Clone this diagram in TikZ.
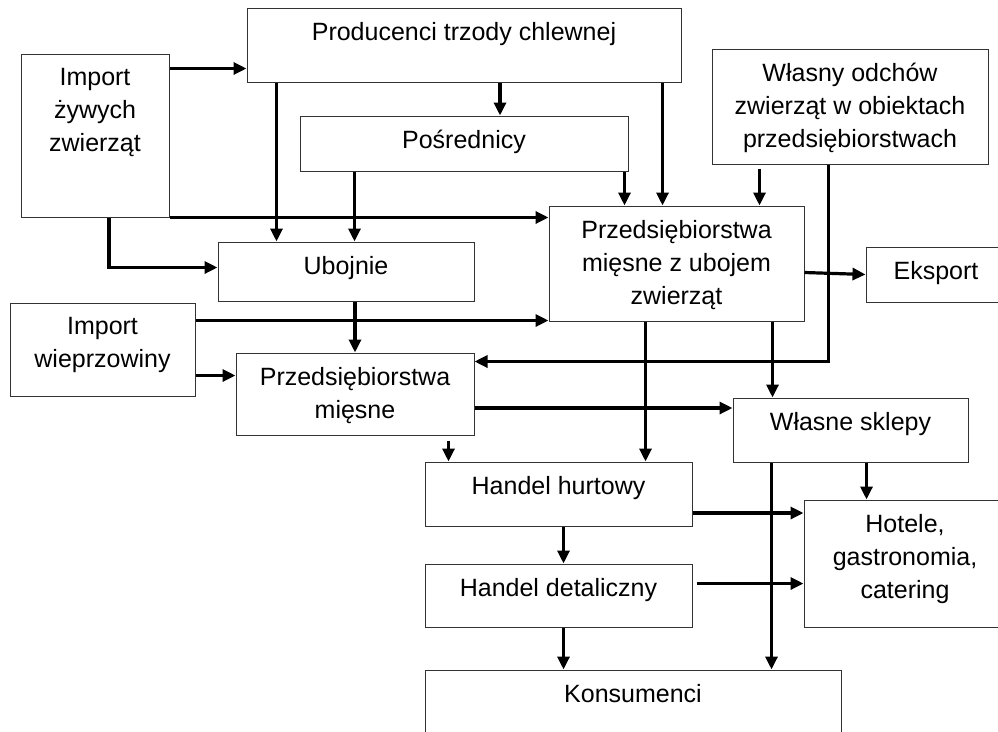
\documentclass[tikz,border=0pt]{standalone}
\usepackage{fontspec}
\setmainfont{Liberation Sans}
\usetikzlibrary{arrows.meta,positioning}

\begin{document}
\begin{tikzpicture}[
            x=1pt, y=-1pt,
            box/.style={draw=black!80, line width=1pt, inner sep=0pt},
            txt/.style={inner sep=0pt, align=center, font=\fontsize{25}{33}\selectfont},
            flow/.style={line width=3.2pt, -{Triangle[length=13pt,width=12pt]}}
            ]
            \useasboundingbox (0,0) rectangle (998,731);
            \clip (0,0) rectangle (998,731);

            % boxes
            \node[box, minimum width=434pt, minimum height=74pt]  (prod)   at (464,45)      {};
            \node[box, minimum width=148pt, minimum height=163pt] (impz)   at (95,135.5)    {};
            \node[box, minimum width=328pt, minimum height=55pt]  (posr)   at (464,143.5)   {};
            \node[box, minimum width=276pt, minimum height=115pt] (odchow) at (850,106.5)   {};
            \node[box, minimum width=255pt, minimum height=115pt] (pzu)    at (676.5,263.5) {};
            \node[box, minimum width=256pt, minimum height=59pt]  (uboj)   at (346,271.5)   {};
            \node[box, minimum width=140pt, minimum height=55pt]  (eksp)   at (936,274.5)   {};
            \node[box, minimum width=185pt, minimum height=93pt]  (impw)   at (102.5,349.5) {};
            \node[box, minimum width=238pt, minimum height=82pt]  (pm)     at (355,394)     {};
            \node[box, minimum width=235pt, minimum height=64pt]  (sklepy) at (850.5,430)   {};
            \node[box, minimum width=267pt, minimum height=64pt]  (hurt)   at (558.5,494)   {};
            \node[box, minimum width=267pt, minimum height=63pt]  (detal)  at (558.5,595.5) {};
            \node[box, minimum width=202pt, minimum height=127pt] (hotele) at (905,563.5)   {};
            \node[box, minimum width=416pt, minimum height=90pt]  (kons)   at (633,715)     {};

            % texts
            \node[txt, below=14.5pt of prod.north]   (prod-t)   {Producenci trzody chlewnej};
            \node[txt, below=14.5pt of impz.north]   (impz-t)   {Import\\żywych\\zwierząt};
            \node[txt, below=14.5pt of posr.north]   (posr-t)   {Pośrednicy};
            \node[txt, below=14.5pt of odchow.north] (odchow-t) {Własny odchów\\zwierząt w obiektach\\przedsiębiorstwach};
            \node[txt, below=14.5pt of pzu.north]    (pzu-t)    {Przedsiębiorstwa\\mięsne z ubojem\\zwierząt};
            \node[txt, below=14.5pt of uboj.north]   (uboj-t)   {Ubojnie};
            \node[txt, below=14.5pt of eksp.north]   (eksp-t)   {Eksport};
            \node[txt, below=14.5pt of impw.north]   (impw-t)   {Import\\wieprzowiny};
            \node[txt, below=14.5pt of pm.north]     (pm-t)     {Przedsiębiorstwa\\mięsne};
            \node[txt, below=14.5pt of sklepy.north] (sklepy-t) {Własne sklepy};
            \node[txt, below=14.5pt of hurt.north]   (hurt-t)   {Handel hurtowy};
            \node[txt, below=14.5pt of detal.north]  (detal-t)  {Handel detaliczny};
            \node[txt, below=14.5pt of hotele.north] (hotele-t) {Hotele,\\gastronomia,\\catering};
            \node[txt, below=14.5pt of kons.north]   (kons-t)   {Konsumenci};

            % arrows
            \draw[flow] ([yshift=-15pt]impz.north east) -- ([yshift=-15pt]impz.north east -| prod.west);
            \draw[flow] ([xshift=30pt]prod.south west) -- ([xshift=30pt]prod.south west |- uboj.north);
            \draw[flow] ([xshift=36pt]prod.south) -- ([xshift=36pt]prod.south |- posr.north);
            \draw[flow] ([xshift=-19pt]prod.south east) -- ([xshift=-19pt]prod.south east |- pzu.north);
            \draw[flow] ([xshift=55pt]posr.south west) -- ([xshift=55pt]posr.south west |- uboj.north);
            \draw[flow] ([xshift=-4pt]posr.south east) -- ([xshift=-4pt]posr.south east |- pzu.north);
            \draw[flow] ([xshift=48pt,yshift=-4pt]odchow.south west) -- ([xshift=48pt]odchow.south west |- pzu.north);
            \draw[flow] ([xshift=-160pt]odchow.south east) |- ([yshift=-9pt]pm.north east);
            \draw[flow] (impz.south east) -- (impz.south east -| pzu.west);
            \draw[flow] ([xshift=14pt]impz.south) |- ([yshift=4pt]uboj.west);
            \draw[flow] (uboj.south -| pm.north) -- (pm.north);
            \draw[flow] ([yshift=-18pt]impw.north east) -- ([yshift=-18pt]impw.north east -| pzu.west);
            \draw[flow] ([yshift=-73pt]impw.north east) -- ([yshift=-73pt]impw.north east -| pm.west);
            \draw[flow] ([yshift=-9pt]pzu.east) -- (eksp.west);
            \draw[flow] ([xshift=97pt]pzu.south west) -- ([xshift=97pt]pzu.south west |- hurt.north);
            \draw[flow] ([xshift=-32pt]pzu.south east) -- ([xshift=-32pt]pzu.south east |- sklepy.north);
            \draw[flow] ([yshift=-14pt]pm.east) -- ([yshift=-14pt]pm.east -| sklepy.west);
            \draw[flow] ([xshift=-26pt,yshift=-5pt]pm.south east) -- ([xshift=-26pt]pm.south east |- hurt.north);
            \draw[flow] ([xshift=39pt]sklepy.south west) -- ([xshift=39pt]sklepy.south west |- kons.north);
            \draw[flow] ([xshift=-102pt]sklepy.south east) -- ([xshift=-102pt]sklepy.south east |- hotele.north);
            \draw[flow] ([yshift=-19pt]hurt.east) -- ([yshift=-19pt]hurt.east -| hotele.west);
            \draw[flow] ([xshift=4pt,yshift=12pt]detal.east) -- ([yshift=12pt]detal.east -| hotele.west);
            \draw[flow] ([xshift=139pt]hurt.south west) -- ([xshift=139pt]hurt.south west |- detal.north);
            \draw[flow] ([xshift=139pt]detal.south west) -- ([xshift=139pt]detal.south west |- kons.north);

        \end{tikzpicture}
\end{document}
